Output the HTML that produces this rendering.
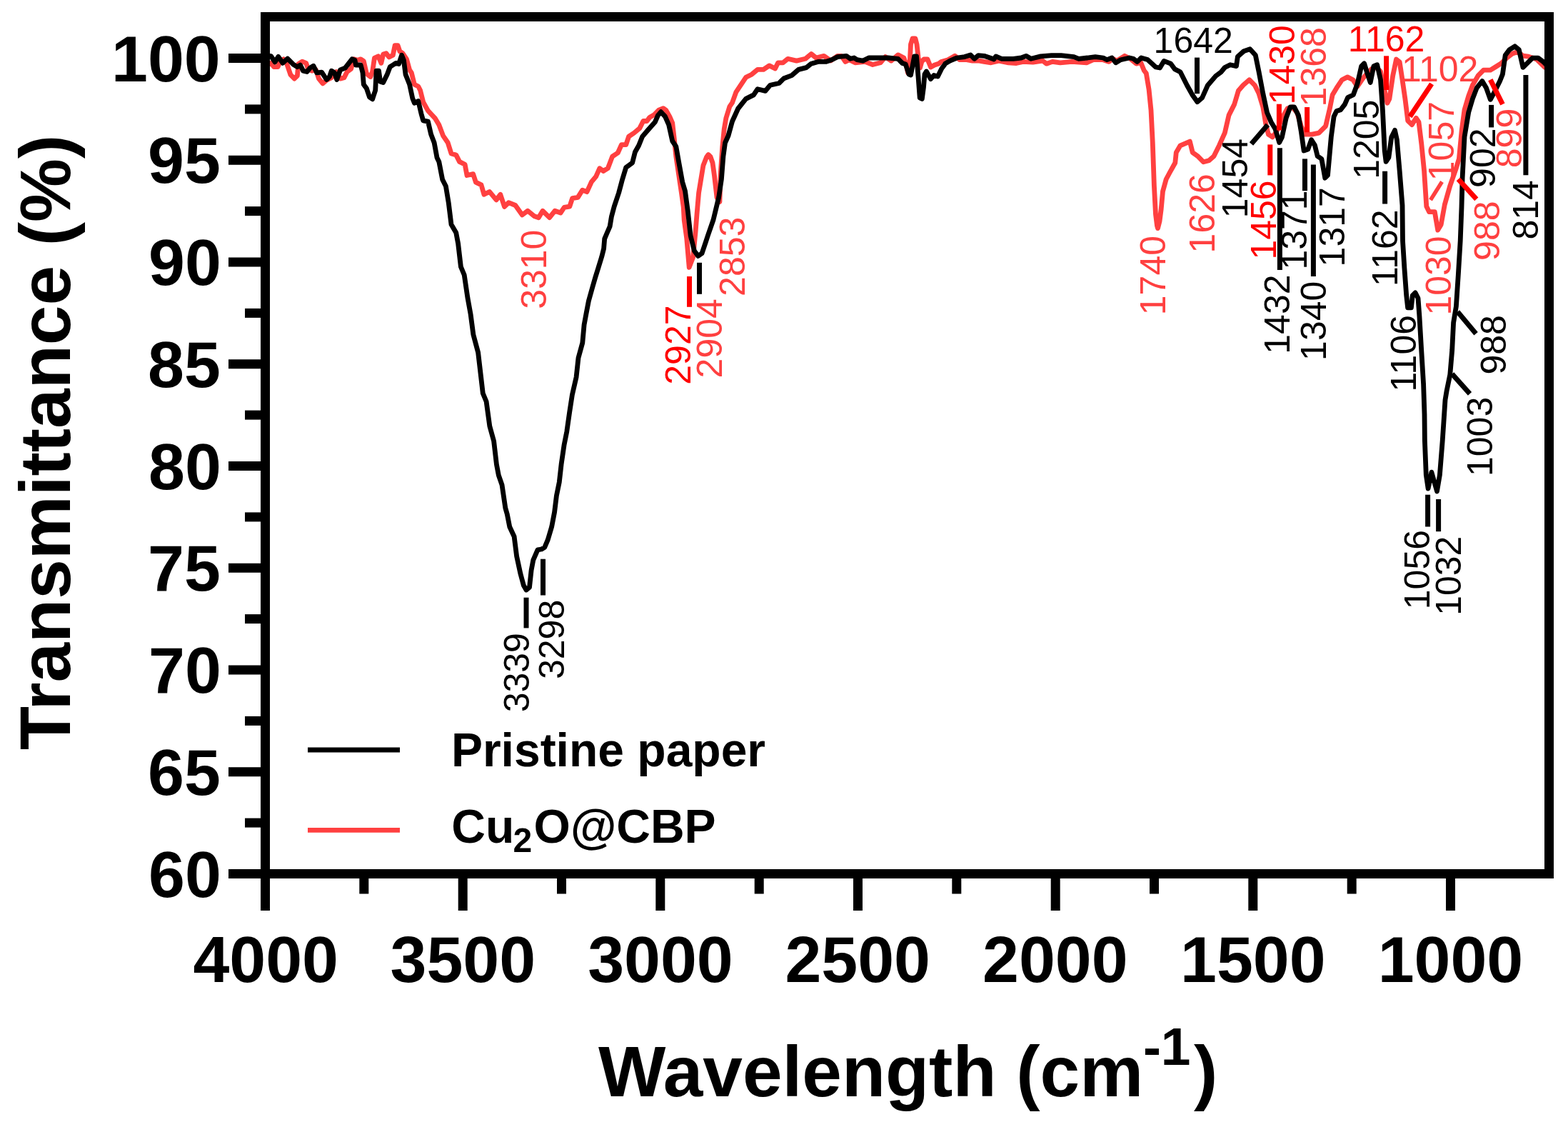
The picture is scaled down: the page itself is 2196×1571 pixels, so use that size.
<!DOCTYPE html>
<html><head><meta charset="utf-8"><title>FTIR</title><style>html,body{margin:0;padding:0;background:#fff;}svg{display:block;}</style></head><body>
<svg width="2196" height="1571" viewBox="0 0 2196 1571" font-family="'Liberation Sans', sans-serif">
<rect width="2196" height="1571" fill="#fff"/>
<polyline points="370,96.4 375.5,91 379.6,88.3 383.7,93.7 389.1,93.7 391.9,86.9 397.3,82.8 401.4,88.3 406.9,104.6 412.3,110.1 416.4,106 417.8,89.6 423.3,86.2 428.7,88.3 431.5,96.4 436.9,99.2 442.4,97.8 446.5,110.1 452,116.9 457.4,112.2 464.3,108.7 471.1,100.5 476.6,110.1 482,108.7 486.1,100.5 491.6,96.4 495.7,82.8 501.1,84.2 505.2,82.8 509.3,85.5 513.4,103.3 518.9,107.4 521.6,100.5 524.4,81.4 529.8,78.7 533.9,88.3 536.7,76 540.8,74.6 544.9,80 550.3,77.3 553.1,63.7 557.2,63.7 559.9,71.9 564,74.6 569.5,82.8 573.6,97.8 576.3,101.9 580.4,118.3 585.8,121 588.6,126.5 592.7,142.9 599.5,155.2 609.1,165.3 614.8,174.8 620.6,190.1 627.2,199.7 632,215 638.7,216.9 643.5,226.4 651.1,230.2 654,245.5 662.6,243.6 666.4,255.1 674,258.9 677.9,272.3 685.5,268.4 695.1,279.9 700.8,272.3 706.5,289.4 712.3,283.7 721.8,287.5 731.4,300.9 739,295.2 748.5,302.8 754.3,304.7 760,295.2 769.6,304.7 777.2,295.2 785.1,298 790.2,290.4 797.8,289.1 801.6,277.7 809.3,276.4 815.6,266.2 822,268.7 828.4,254.7 834.7,247.1 839.8,235.7 844.9,239.5 851.3,235.7 857.6,219.1 865.3,214 870.4,202.6 876.7,202.6 880.6,191.1 888.2,186 895.8,179.6 900.9,169.5 906,169.5 909.8,164.4 916.2,160.6 922.6,154.2 928.9,151.6 932.7,154.2 937.8,163.1 941.7,172 944.2,193.6 946.8,219.1 950.6,244.6 954.4,270 957.2,290 958.2,308.2 961.7,333.5 965.2,374.4 970.6,360.2 974.1,324.5 976,300 978.6,270 984.9,231.8 989.5,220 992,216.5 995,219.5 998,228 1000.5,246 1004,276.4 1007.9,282.7 1009.1,244.6 1011.7,206.4 1014.2,180.9 1016.8,165.6 1021.9,149.1 1025.5,143.8 1030.9,128.8 1036.4,120.6 1044.6,108.3 1052.8,104.2 1061,97.4 1069.2,97.4 1077.4,91.9 1085.6,96 1089.7,87.8 1096.5,87.8 1103.3,82.3 1115.6,85.1 1127.9,82.3 1136.1,75.5 1143,81 1153.9,78.3 1163.4,85.1 1173,78.3 1178.5,78.3 1183.9,86.4 1189.4,83.7 1197.6,87.8 1211.3,86.4 1222.2,90.5 1233.1,87.8 1240,79.6 1248.1,85.1 1257.7,76.9 1265.9,81 1269,90 1271.5,102 1274,92 1275.5,62 1278,54 1282,54 1284,62 1286,80 1288.5,95 1291,86 1294,83 1299,83 1303.5,94 1309,91 1315,89 1318.2,86.4 1327.8,83.7 1337.3,78.3 1344.2,83.7 1353.7,83.7 1361.9,85.1 1371.5,85.1 1378.3,86.4 1387.9,87.8 1398.8,85.1 1412.5,87.8 1423.4,88.5 1433,86.4 1446.6,87.1 1460.3,85.1 1465.7,89.2 1473.9,86.4 1484.9,87.8 1501.3,86.4 1521.7,87.8 1531.3,83.7 1545,83.7 1553.2,86.4 1558.6,82.3 1564.1,85.1 1575,78.3 1583.2,82.3 1591.4,89.2 1597.6,87.3 1602.3,98.7 1605.3,102.6 1609.1,125.5 1612,154.2 1614.3,200 1616.4,260 1618.5,300 1620.5,316 1621.5,319.6 1624,310 1626.2,293 1628.5,268 1633.2,251 1638,242 1645.8,228 1647.3,213.4 1653,203.8 1666.4,198.1 1670.2,213.4 1677.9,219.1 1685.5,226.8 1693.2,224.8 1700,218.7 1707.6,203.4 1715.3,186.2 1721,161.4 1728.7,146.1 1734.4,127 1741.1,119.3 1749.7,111.7 1757.3,119.3 1763,130.8 1768.8,149.9 1772.6,172.8 1776.4,188.1 1782.1,191.9 1787.9,184.3 1795.5,165.2 1803.2,151.8 1809.8,149.9 1816.5,157.5 1822.3,176.6 1827,188.1 1837.5,188.1 1847.1,186.2 1856.6,176.6 1862.4,151.8 1866.2,132.7 1871.9,123.2 1879.6,111.7 1887.2,107.9 1894.8,111.7 1901,121.2 1908.7,109.8 1915.3,102.1 1921.1,96.4 1927.8,94.5 1933.5,100.2 1939.2,127 1943,144.2 1945.9,138.4 1950.7,106 1955.5,83 1960.2,86.9 1964,111.7 1967.9,138.4 1971.7,169 1977.4,174.7 1983.2,165.2 1987,170.9 1990.8,201.5 1994.6,239.7 1997.8,289 2001.6,296.7 2009.3,296.7 2013.7,322.1 2018.2,314.5 2023.3,286.5 2030.9,259.8 2038.5,238.2 2043.4,222.3 2047.2,182.2 2051,153.6 2056.7,134.5 2062.4,119.2 2070.1,105.9 2077.7,98.2 2087.3,98.2 2094.9,93.5 2102.5,88.7 2110.2,81.1 2117.8,75.3 2125.4,72.5 2133,78.2 2140.7,79.2 2152.1,83 2163.6,94.4 2171.2,96.3" fill="none" stroke="#ff4040" stroke-width="6.8" stroke-linejoin="round" stroke-linecap="round"/>
<polyline points="370,77.3 379.6,78.7 385,86.9 389.8,79.4 396,88.3 402.8,82.1 411,90.3 416.4,93.7 420.5,91 424.6,99.2 430,100.5 434.2,95.1 439,92.3 443.8,101.9 450.6,101.2 457.4,111.5 461.5,107.4 464.3,99.2 468.4,101.9 471.8,111.5 476.6,97.8 483.4,95.1 493,82.8 497,84.2 498.4,91 505.2,91 508,101.9 509.3,118.3 513.4,123.8 517.5,136 521.6,138.8 525.7,126.5 527.1,99.2 530.5,99.2 532.6,114.2 536.7,115.6 542.1,104.6 546.2,93.7 550.3,91 554.4,88.3 558.5,89.6 562.6,77.3 565.4,84.2 568.1,104.6 573.6,118.3 577.7,137.4 580.4,144.3 585.8,141.5 590,159.3 592.7,168.9 599.5,170.2 603.6,188 608.1,199.7 612,220.7 614.8,226.4 619.6,251.2 624.4,260.8 628.2,283.7 632,314.3 638.7,325.7 641.6,341 645.4,373.5 650.2,385 655,417.4 659.1,440 662.9,468.7 669.6,493.5 673.4,526 676.3,550.8 681.1,562.3 685.8,596.6 691.6,617.6 695.4,650.1 698.3,665.4 703,678.8 707.8,711.3 710.3,720 713.8,737.8 720.1,751.2 723.6,778.8 729,803.7 733.4,819.8 737,826 741.5,822.4 744.1,798.4 746.8,784.1 753,769.9 758.4,769 762.8,766.3 767.3,755.6 772.6,737.8 776.6,717 779.4,694.1 783.3,675 786.1,650.1 790,623.4 793.8,604.3 797.6,577.5 801.4,552.7 807.1,527.9 810,501.1 815.8,480 818.1,454.6 820.9,439.7 824.4,421.4 829.5,403.1 833.5,389.3 838.1,374.5 842.7,359.6 845.6,348.1 846.7,334.4 849.6,327.5 854.1,317.2 856.4,303.4 860.2,289.1 866.6,270 871.7,250.9 876.7,234.4 885.6,228 889.5,212.7 894.6,203.8 899.7,191.1 907.3,182.2 917.5,170.7 921.3,161.8 925.7,156.7 931.5,163.1 936.6,174.6 941.7,197.5 946.8,205.1 950.6,226.7 955.7,254.7 959.5,267.5 963.3,295.5 967.1,330 972.4,351.3 977.7,358.4 983,354.8 988.4,338.8 991.3,330 998.9,308.2 1006.6,276.4 1010.4,250.9 1012.9,219.1 1015.5,200 1020,190 1025.5,170 1033.7,152 1044.6,138.4 1055.5,132.9 1061,124.7 1071.9,127.4 1078.7,119.2 1091,116.5 1097.9,109.7 1108.8,105.6 1118.4,97.4 1129.3,94.6 1136.1,89.2 1145.7,86.4 1156.6,86.4 1164.8,83.7 1173,79.6 1185.3,78.3 1190.8,82.3 1196.2,81 1200.3,83.7 1208.5,85.1 1216.7,81 1227.6,81 1244,81 1257.7,82.3 1263.8,88.5 1268.3,90 1272.9,104 1275.5,105 1280.6,79 1283.6,79 1285.9,106 1288.2,137 1291.3,138.5 1293.5,122 1295,104 1297.4,100 1303.5,110.6 1308,105.5 1313.4,107 1318.8,96 1322.6,91 1323.7,89.2 1330.5,85.1 1340.1,81 1351,79.6 1359.2,76.9 1364.6,82.3 1370.1,77.6 1378.3,78.3 1386.5,81 1392,83 1394.7,78.9 1402.9,82.3 1419.3,82.3 1430.2,81 1437,78.3 1443.9,82.3 1457.5,78.9 1472.6,77.6 1486.2,77.6 1504,79.6 1510.8,82.3 1523.1,81 1534,79.6 1545,81 1550.4,83.7 1557.3,81 1562.7,87.8 1569.6,83.7 1581.8,81 1587.3,82.3 1592.8,86.4 1598.3,81 1607.2,83.5 1618.7,94 1624.4,95 1630.1,85.4 1639.7,89.2 1645.4,96.9 1653,100.7 1662.6,119.8 1670.2,133.2 1676.9,142.7 1683.6,137 1691.2,119.8 1702.7,106.4 1710.3,100.7 1715.3,94.5 1722.9,90.7 1731.5,92.6 1733.4,79.2 1742,71.6 1750.6,68.7 1758.3,77.3 1763,100.2 1768.8,130.8 1774.5,157.5 1780.2,170.9 1786,180.5 1791.7,199.6 1795.5,191.9 1801.2,165.2 1807,149.9 1812.7,149.9 1818.4,161.4 1822.3,184.3 1826.1,211 1831.8,209.1 1836.6,195.7 1841.4,203.4 1845.2,218.7 1850.9,222.5 1855.7,249.2 1859.5,245.4 1864.3,191.9 1868.1,163.3 1871.9,155.6 1877.6,153.7 1883.4,146.1 1887.6,136.5 1895.3,132.7 1901,117.4 1906.7,92.6 1910.6,88.8 1915.3,104 1919.2,115.5 1923.9,92.6 1928.7,90.7 1933.5,111.7 1936.4,153.7 1939.2,211 1941.1,226.3 1944.9,220.6 1948.8,191.9 1953.5,182.4 1956.4,195.7 1960.2,239.7 1964,287.4 1964.5,337.3 1966.9,375.5 1969.7,413.7 1971.6,430.9 1976.4,430.9 1978.3,413.7 1982.1,409.9 1986,417.5 1987.9,442.4 1990.7,490.1 1993.6,537.9 1995,580 1995.4,617.3 1997.3,665 2000.1,684.1 2004.9,661.2 2012.5,687.9 2016.4,665 2020.2,617.3 2024,560 2026.1,547.4 2030.8,524.5 2033.7,490.1 2035.6,451.9 2039.4,429 2042.3,385.1 2045.2,337.3 2047,290 2048.1,249.2 2051,191.8 2056.7,157.4 2062.4,138.3 2068.2,123.1 2075.8,113.5 2081.5,123.1 2087.3,139.3 2093,128.8 2100.6,113.5 2104.4,104 2108.2,77.3 2114,69.6 2121.6,64.8 2127.3,69.6 2133,94.4 2138.8,88.7 2146.4,81.1 2154,81.1 2161.7,86.8 2167.4,92.5" fill="none" stroke="#000" stroke-width="6.8" stroke-linejoin="round" stroke-linecap="round"/>
<rect x="371.5" y="23.5" width="1798" height="1200" fill="none" stroke="#000" stroke-width="13"/>
<line x1="320" y1="1223.5" x2="371.5" y2="1223.5" stroke="#000" stroke-width="13"/>
<line x1="343" y1="1152.1" x2="371.5" y2="1152.1" stroke="#000" stroke-width="13"/>
<line x1="320" y1="1080.8" x2="371.5" y2="1080.8" stroke="#000" stroke-width="13"/>
<line x1="343" y1="1009.4" x2="371.5" y2="1009.4" stroke="#000" stroke-width="13"/>
<line x1="320" y1="938" x2="371.5" y2="938" stroke="#000" stroke-width="13"/>
<line x1="343" y1="866.6" x2="371.5" y2="866.6" stroke="#000" stroke-width="13"/>
<line x1="320" y1="795.2" x2="371.5" y2="795.2" stroke="#000" stroke-width="13"/>
<line x1="343" y1="723.9" x2="371.5" y2="723.9" stroke="#000" stroke-width="13"/>
<line x1="320" y1="652.5" x2="371.5" y2="652.5" stroke="#000" stroke-width="13"/>
<line x1="343" y1="581.1" x2="371.5" y2="581.1" stroke="#000" stroke-width="13"/>
<line x1="320" y1="509.8" x2="371.5" y2="509.8" stroke="#000" stroke-width="13"/>
<line x1="343" y1="438.4" x2="371.5" y2="438.4" stroke="#000" stroke-width="13"/>
<line x1="320" y1="367" x2="371.5" y2="367" stroke="#000" stroke-width="13"/>
<line x1="343" y1="295.6" x2="371.5" y2="295.6" stroke="#000" stroke-width="13"/>
<line x1="320" y1="224.2" x2="371.5" y2="224.2" stroke="#000" stroke-width="13"/>
<line x1="343" y1="152.9" x2="371.5" y2="152.9" stroke="#000" stroke-width="13"/>
<line x1="320" y1="81.5" x2="371.5" y2="81.5" stroke="#000" stroke-width="13"/>
<line x1="371.5" y1="1223.5" x2="371.5" y2="1275" stroke="#000" stroke-width="13"/>
<line x1="509.8" y1="1223.5" x2="509.8" y2="1251.5" stroke="#000" stroke-width="13"/>
<line x1="648.2" y1="1223.5" x2="648.2" y2="1275" stroke="#000" stroke-width="13"/>
<line x1="786.5" y1="1223.5" x2="786.5" y2="1251.5" stroke="#000" stroke-width="13"/>
<line x1="924.8" y1="1223.5" x2="924.8" y2="1275" stroke="#000" stroke-width="13"/>
<line x1="1063.2" y1="1223.5" x2="1063.2" y2="1251.5" stroke="#000" stroke-width="13"/>
<line x1="1201.5" y1="1223.5" x2="1201.5" y2="1275" stroke="#000" stroke-width="13"/>
<line x1="1339.8" y1="1223.5" x2="1339.8" y2="1251.5" stroke="#000" stroke-width="13"/>
<line x1="1478.2" y1="1223.5" x2="1478.2" y2="1275" stroke="#000" stroke-width="13"/>
<line x1="1616.5" y1="1223.5" x2="1616.5" y2="1251.5" stroke="#000" stroke-width="13"/>
<line x1="1754.8" y1="1223.5" x2="1754.8" y2="1275" stroke="#000" stroke-width="13"/>
<line x1="1893.2" y1="1223.5" x2="1893.2" y2="1251.5" stroke="#000" stroke-width="13"/>
<line x1="2031.5" y1="1223.5" x2="2031.5" y2="1275" stroke="#000" stroke-width="13"/>
<text x="208" y="1255.5" font-size="91.5" font-weight="bold">60</text>
<text x="207" y="1112.8" font-size="91.5" font-weight="bold">65</text>
<text x="208" y="970" font-size="91.5" font-weight="bold">70</text>
<text x="207" y="827.2" font-size="91.5" font-weight="bold">75</text>
<text x="208" y="684.5" font-size="91.5" font-weight="bold">80</text>
<text x="207" y="541.8" font-size="91.5" font-weight="bold">85</text>
<text x="208" y="399" font-size="91.5" font-weight="bold">90</text>
<text x="207" y="256.2" font-size="91.5" font-weight="bold">95</text>
<text x="156" y="113.5" font-size="91.5" font-weight="bold">100</text>
<text x="1929.7" y="1374.5" font-size="91.5" font-weight="bold">1000</text>
<text x="1653" y="1374.5" font-size="91.5" font-weight="bold">1500</text>
<text x="1376.1" y="1374.5" font-size="91.5" font-weight="bold">2000</text>
<text x="1099.4" y="1374.5" font-size="91.5" font-weight="bold">2500</text>
<text x="823.2" y="1374.5" font-size="91.5" font-weight="bold">3000</text>
<text x="546.6" y="1374.5" font-size="91.5" font-weight="bold">3500</text>
<text x="270.4" y="1374.5" font-size="91.5" font-weight="bold">4000</text>
<line x1="1676.5" y1="80.6" x2="1676.5" y2="131.2" stroke="#000000" stroke-width="7"/>
<line x1="737" y1="836.7" x2="737" y2="879.4" stroke="#000000" stroke-width="7"/>
<line x1="760.5" y1="782.7" x2="760.5" y2="833.5" stroke="#000000" stroke-width="7"/>
<line x1="1752.5" y1="201.5" x2="1775.5" y2="174.7" stroke="#000000" stroke-width="7"/>
<line x1="1792.4" y1="207.2" x2="1792.4" y2="378.1" stroke="#000000" stroke-width="7"/>
<line x1="1827.5" y1="222.4" x2="1827.5" y2="267.2" stroke="#000000" stroke-width="7"/>
<line x1="1839.4" y1="230.5" x2="1839.4" y2="386.9" stroke="#000000" stroke-width="7"/>
<line x1="1939.6" y1="239.7" x2="1939.6" y2="285.5" stroke="#000000" stroke-width="7"/>
<line x1="1999.6" y1="692.7" x2="1999.6" y2="737.5" stroke="#000000" stroke-width="7"/>
<line x1="2014.6" y1="699" x2="2014.6" y2="744.2" stroke="#000000" stroke-width="7"/>
<line x1="2033.7" y1="523.6" x2="2058.5" y2="551.3" stroke="#000000" stroke-width="7"/>
<line x1="2041.4" y1="436.6" x2="2067.1" y2="467.2" stroke="#000000" stroke-width="7"/>
<line x1="2088.6" y1="146.9" x2="2088.6" y2="178.4" stroke="#000000" stroke-width="7"/>
<line x1="2136.9" y1="104.9" x2="2136.9" y2="245.2" stroke="#000000" stroke-width="7"/>
<line x1="979.5" y1="367.8" x2="979.5" y2="411.8" stroke="#000000" stroke-width="7"/>
<line x1="965.5" y1="387" x2="965.5" y2="429.8" stroke="#ff0000" stroke-width="7"/>
<line x1="1791.4" y1="145.7" x2="1791.4" y2="182.5" stroke="#ff0000" stroke-width="7"/>
<line x1="1778.8" y1="202.4" x2="1778.8" y2="245.4" stroke="#ff0000" stroke-width="7"/>
<line x1="1941.6" y1="78.3" x2="1941.6" y2="126" stroke="#ff0000" stroke-width="7"/>
<line x1="1830.6" y1="150" x2="1830.6" y2="185.2" stroke="#ff0000" stroke-width="7"/>
<line x1="1974.6" y1="163.3" x2="2005.1" y2="117.4" stroke="#ff0000" stroke-width="7"/>
<line x1="2003.5" y1="280" x2="2019.5" y2="254.5" stroke="#ff4040" stroke-width="5.5"/>
<line x1="2042.3" y1="250.9" x2="2067.8" y2="278.9" stroke="#ff0000" stroke-width="7"/>
<line x1="2087.3" y1="111.6" x2="2104.4" y2="146" stroke="#ff0000" stroke-width="7"/>
<text x="1615.6" y="74.1" font-size="50" fill="#000000">1642</text>
<text transform="translate(740.8,997.3) rotate(-90)" font-size="50" fill="#000000">3339</text>
<text transform="translate(789.8,951) rotate(-90)" font-size="50" fill="#000000">3298</text>
<text transform="translate(1746.7,305.2) rotate(-90)" font-size="50" fill="#000000">1454</text>
<text transform="translate(1805.7,495.7) rotate(-90)" font-size="50" fill="#000000">1432</text>
<text transform="translate(1830.3,377.6) rotate(-90)" font-size="50" fill="#000000">1371</text>
<text transform="translate(1856.8,504.9) rotate(-90)" font-size="50" fill="#000000">1340</text>
<text transform="translate(1882.5,373.4) rotate(-90)" font-size="50" fill="#000000">1317</text>
<text transform="translate(1930.9,250.8) rotate(-90)" font-size="50" fill="#000000">1205</text>
<text transform="translate(1956.5,400.9) rotate(-90)" font-size="50" fill="#000000">1162</text>
<text transform="translate(1982.9,548.5) rotate(-90)" font-size="50" fill="#000000">1106</text>
<text transform="translate(2001.7,853.2) rotate(-90)" font-size="50" fill="#000000">1056</text>
<text transform="translate(2045.6,861.8) rotate(-90)" font-size="50" fill="#000000">1032</text>
<text transform="translate(2090.2,667) rotate(-90)" font-size="50" fill="#000000">1003</text>
<text transform="translate(2109.3,524.5) rotate(-90)" font-size="50" fill="#000000">988</text>
<text transform="translate(2093.8,262.9) rotate(-90)" font-size="50" fill="#000000">902</text>
<text transform="translate(2153.9,335.6) rotate(-90)" font-size="50" fill="#000000">814</text>
<text transform="translate(966.5,538.7) rotate(-90)" font-size="50" fill="#ff0000">2927</text>
<text transform="translate(1812.7,146.4) rotate(-90)" font-size="50" fill="#ff0000">1430</text>
<text transform="translate(1786.7,363.6) rotate(-90)" font-size="50" fill="#ff0000">1456</text>
<text x="1887.8" y="71.7" font-size="50" fill="#ff0000">1162</text>
<text transform="translate(764.5,432.8) rotate(-90)" font-size="50" fill="#ff4040">3310</text>
<text transform="translate(1010.9,529.4) rotate(-90)" font-size="50" fill="#ff4040">2904</text>
<text transform="translate(1042.7,414.9) rotate(-90)" font-size="50" fill="#ff4040">2853</text>
<text transform="translate(1631.6,441.2) rotate(-90)" font-size="50" fill="#ff4040">1740</text>
<text transform="translate(1700.6,354.4) rotate(-90)" font-size="50" fill="#ff4040">1626</text>
<text transform="translate(1856.8,149.4) rotate(-90)" font-size="50" fill="#ff4040">1368</text>
<text x="1962.9" y="114" font-size="50" fill="#ff4040">1102</text>
<text transform="translate(2035.5,253.2) rotate(-90)" font-size="50" fill="#ff4040">1057</text>
<text transform="translate(2031.7,441.6) rotate(-90)" font-size="50" fill="#ff4040">1030</text>
<text transform="translate(2099.9,364.9) rotate(-90)" font-size="50" fill="#ff4040">988</text>
<text transform="translate(2131.4,235.2) rotate(-90)" font-size="50" fill="#ff4040">899</text>
<line x1="431" y1="1050" x2="560" y2="1050" stroke="#000" stroke-width="6.8"/>
<line x1="431" y1="1162.4" x2="560" y2="1162.4" stroke="#ff4040" stroke-width="6.8"/>
<text x="631.9" y="1073.3" font-size="66" font-weight="bold" fill="#000" >Pristine paper</text>
<text x="632.3" y="1180.1" font-size="66" font-weight="bold" fill="#000" >Cu</text>
<text x="718.4" y="1192.9" font-size="48" font-weight="bold">2</text>
<text x="747.6" y="1180.1" font-size="66" font-weight="bold" fill="#000" >O@CBP</text>
<text x="838" y="1534.7" font-size="100" font-weight="bold" fill="#000" >Wavelength (cm</text>
<text x="1601" y="1491.8" font-size="75" font-weight="bold">-</text>
<text x="1625.7" y="1490.7" font-size="75" font-weight="bold">1</text>
<text x="1672" y="1534.7" font-size="100" font-weight="bold" fill="#000" >)</text>
<text transform="translate(97.9,1050) rotate(-90)" font-size="100" font-weight="bold">Transmittance (%)</text>
</svg>
</body></html>
